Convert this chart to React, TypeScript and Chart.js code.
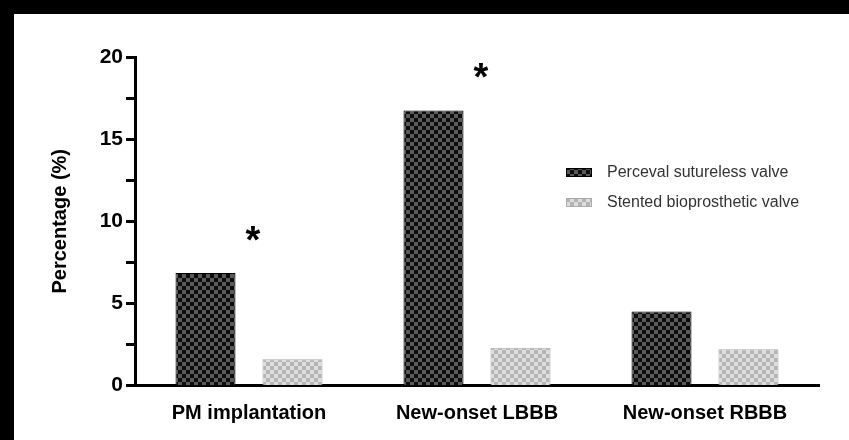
import React, { useEffect, useRef } from "react";
import { Chart, registerables } from "chart.js";

Chart.register(...registerables);

const categories = ["PM implantation", "New-onset LBBB", "New-onset RBBB"];
const seriesNames = ["Perceval sutureless valve", "Stented bioprosthetic valve"];
const percevalValues = [6.85, 16.75, 4.5];
const stentedValues = [1.6, 2.3, 2.2];
const significant = [true, true, false];
const yTicks = [0, 5, 10, 15, 20];

const FONT = "'Liberation Sans', Arial, Helvetica, sans-serif";

function makePattern(dark: string, light: string): CanvasPattern | string {
  const c = document.createElement("canvas");
  c.width = 8;
  c.height = 8;
  const g = c.getContext("2d");
  if (!g) return dark;
  g.fillStyle = light;
  g.fillRect(0, 0, 8, 8);
  g.fillStyle = dark;
  g.fillRect(0, 0, 4, 4);
  g.fillRect(4, 4, 4, 4);
  const p = g.createPattern(c, "repeat");
  return p || dark;
}

export default function App() {
  const ref = useRef<HTMLCanvasElement | null>(null);

  useEffect(() => {
    if (!ref.current) return;
    const darkPat = makePattern("#0d0d0d", "#5a5a5a");
    const lightPat = makePattern("#b4b4b4", "#dedede");

    const overlay = {
      id: "overlay",
      afterDraw(chart: any) {
        const ctx = chart.ctx;
        const xs = chart.scales.x;
        const ys = chart.scales.y;
        ctx.save();
        // asterisks
        ctx.fillStyle = "#000";
        ctx.font = `bold 38px ${FONT}`;
        ctx.textAlign = "center";
        ctx.textBaseline = "middle";
        significant.forEach((s, i) => {
          if (!s) return;
          const x = xs.getPixelForValue(i) + 4;
          const y = ys.getPixelForValue(percevalValues[i] + 2.3) + 7;
          ctx.fillText("*", x, y);
        });
        // legend
        const pats = [darkPat, lightPat];
        const borders = ["#000", "#aaa"];
        ctx.font = `16px ${FONT}`;
        ctx.textAlign = "left";
        ctx.textBaseline = "middle";
        seriesNames.forEach((name, i) => {
          const bx = 552;
          const by = 154 + i * 30;
          ctx.fillStyle = pats[i] as any;
          ctx.fillRect(bx, by, 26, 9);
          ctx.strokeStyle = borders[i];
          ctx.lineWidth = 1;
          ctx.strokeRect(bx + 0.5, by + 0.5, 25, 8);
          ctx.fillStyle = "#333";
          ctx.fillText(name, bx + 41, by + 4.5);
        });
        ctx.restore();
      },
    };

    const chart = new Chart(ref.current, {
      type: "bar",
      data: {
        labels: categories,
        datasets: [
          {
            label: seriesNames[0],
            data: percevalValues,
            backgroundColor: darkPat as any,
            borderColor: "#000",
            borderWidth: 1,
            categoryPercentage: 0.763,
            barPercentage: 0.69,
          },
          {
            label: seriesNames[1],
            data: stentedValues,
            backgroundColor: lightPat as any,
            borderColor: "#aaa",
            borderWidth: 1,
            categoryPercentage: 0.763,
            barPercentage: 0.69,
          },
        ],
      },
      options: {
        animation: false,
        responsive: false,
        maintainAspectRatio: false,
        layout: { padding: { top: 43, right: 30, left: 0, bottom: 0 } },
        plugins: {
          legend: { display: false },
          tooltip: { enabled: false },
        },
        scales: {
          x: {
            grid: { display: false, drawTicks: false },
            border: { display: true, color: "#000", width: 3 },
            ticks: {
              color: "#000",
              padding: 16,
              font: { family: FONT, size: 20, weight: "bold" },
            },
            afterFit: (s: any) => {
              s.height = 54.5;
            },
          },
          y: {
            min: 0,
            max: 20,
            grid: {
              display: true,
              drawOnChartArea: false,
              drawTicks: true,
              tickLength: 9,
              tickWidth: 3,
              tickColor: "#000",
            },
            border: { display: true, color: "#000", width: 3 },
            ticks: {
              stepSize: 2.5,
              padding: 3,
              color: "#000",
              font: { family: FONT, size: 21, weight: "bold" },
              callback: (v: any) => (yTicks.includes(Number(v)) ? String(v) : ""),
            },
            title: {
              display: true,
              text: "Percentage (%)",
              color: "#000",
              font: { family: FONT, size: 20, weight: "bold" },
              padding: { top: 34, bottom: 0 },
            },
            afterFit: (s: any) => {
              s.width = 121;
            },
          },
        },
      },
      plugins: [overlay],
    });
    return () => chart.destroy();
  }, []);

  return (
    <div
      style={{
        position: "fixed",
        left: 0,
        top: 0,
        width: 849,
        height: 440,
        background: "#000",
      }}
    >
      <div
        style={{
          position: "absolute",
          left: 14,
          top: 14,
          width: 835,
          height: 426,
          background: "#fff",
        }}
      >
        <canvas ref={ref} width={835} height={426} style={{ display: "block" }} />
      </div>
    </div>
  );
}
